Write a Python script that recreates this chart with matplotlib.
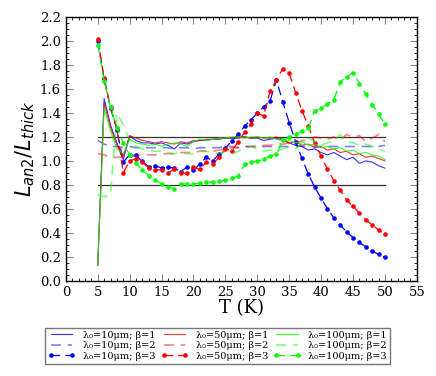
import matplotlib
matplotlib.use("Agg")
import matplotlib.pyplot as plt
from matplotlib.ticker import MultipleLocator

T = list(range(5, 51))

# beta = 1 (solid)
b1 = [0.13, 1.52, 1.30, 1.15, 1.01, 1.21, 1.17, 1.15, 1.15, 1.14,
      1.15, 1.13, 1.10, 1.15, 1.14, 1.16, 1.17, 1.17, 1.18, 1.18,
      1.19, 1.19, 1.19, 1.20, 1.19, 1.19, 1.17, 1.18, 1.19, 1.17,
      1.15, 1.13, 1.12, 1.09, 1.10, 1.07, 1.05, 1.07, 1.04, 1.01,
      1.03, 0.98, 1.00, 0.99, 0.96, 0.94]
r1 = [0.13, 1.48, 1.28, 1.13, 1.04, 1.21, 1.19, 1.17, 1.16, 1.15,
      1.16, 1.15, 1.14, 1.16, 1.15, 1.17, 1.17, 1.18, 1.18, 1.19,
      1.19, 1.19, 1.20, 1.20, 1.19, 1.20, 1.19, 1.19, 1.20, 1.18,
      1.15, 1.16, 1.13, 1.14, 1.11, 1.12, 1.09, 1.10, 1.07, 1.08,
      1.05, 1.06, 1.03, 1.04, 1.02, 1.00]
g1 = [0.13, 1.44, 1.25, 1.10, 1.06, 1.18, 1.15, 1.14, 1.13, 1.14,
      1.12, 1.14, 1.15, 1.14, 1.12, 1.16, 1.18, 1.17, 1.18, 1.19,
      1.19, 1.20, 1.20, 1.19, 1.20, 1.20, 1.19, 1.20, 1.18, 1.17,
      1.17, 1.15, 1.16, 1.13, 1.14, 1.11, 1.12, 1.10, 1.11, 1.08,
      1.09, 1.06, 1.07, 1.05, 1.04, 1.01]

# beta = 2 (dashed)
b2 = [1.17, 1.14, 1.12, 1.12, 1.11, 1.12, 1.11, 1.11, 1.11, 1.11,
      1.11, 1.11, 1.10, 1.11, 1.11, 1.10, 1.11, 1.11, 1.11, 1.11,
      1.12, 1.12, 1.11, 1.12, 1.12, 1.12, 1.12, 1.12, 1.12, 1.12,
      1.12, 1.13, 1.12, 1.12, 1.12, 1.12, 1.12, 1.12, 1.12, 1.12,
      1.12, 1.12, 1.12, 1.12, 1.12, 1.13]
r2 = [1.06, 1.05, 1.03, 1.03, 1.03, 1.04, 1.04, 1.05, 1.05, 1.05,
      1.06, 1.06, 1.06, 1.07, 1.07, 1.07, 1.08, 1.08, 1.08, 1.09,
      1.10, 1.11, 1.11, 1.12, 1.12, 1.12, 1.13, 1.13, 1.14, 1.14,
      1.15, 1.15, 1.17, 1.17, 1.20, 1.19, 1.18, 1.20, 1.17, 1.22,
      1.20, 1.21, 1.16, 1.19, 1.22, 1.16]
g2 = [0.72, 0.70, 0.72, 1.40, 1.30, 1.17, 1.12, 1.10, 1.09, 1.08,
      1.08, 1.07, 1.06, 1.07, 1.06, 1.06, 1.09, 1.08, 1.07, 1.06,
      1.08, 1.06, 1.08, 1.10, 1.12, 1.10, 1.08, 1.09, 1.08, 1.10,
      1.12, 1.10, 1.15, 1.19, 1.16, 1.13, 1.15, 1.17, 1.22, 1.16,
      1.15, 1.13, 1.14, 1.12, 1.10, 1.08]

# beta = 3 (dashed with dots)
b3 = [2.00, 1.68, 1.44, 1.26, 0.99, 1.05, 1.045, 0.995, 0.95, 0.96,
      0.94, 0.947, 0.94, 0.91, 0.95, 0.92, 0.975, 1.03, 1.00, 1.056,
      1.105, 1.167, 1.22, 1.29, 1.34, 1.40, 1.45, 1.50, 1.675, 1.49,
      1.32, 1.16, 1.02, 0.89, 0.78, 0.69, 0.60, 0.525, 0.464, 0.41,
      0.36, 0.32, 0.283, 0.25, 0.22, 0.197]
r3 = [2.02, 1.69, 1.45, 1.27, 0.90, 1.00, 1.017, 0.99, 0.94, 0.925,
      0.925, 0.90, 0.93, 0.90, 0.897, 0.947, 0.93, 0.99, 0.97, 1.03,
      1.10, 1.086, 1.156, 1.24, 1.31, 1.40, 1.375, 1.58, 1.675, 1.77,
      1.73, 1.57, 1.42, 1.29, 1.15, 1.04, 0.93, 0.836, 0.755, 0.675,
      0.62, 0.567, 0.51, 0.467, 0.425, 0.39]
g3 = [1.97, 1.667, 1.447, 1.278, 1.147, 1.05, 0.98, 0.925, 0.878, 0.84,
      0.81, 0.786, 0.767, 0.808, 0.81, 0.81, 0.814, 0.82, 0.825, 0.83,
      0.84, 0.856, 0.87, 0.97, 0.99, 0.997, 1.014, 1.04, 1.056, 1.17,
      1.195, 1.22, 1.25, 1.27, 1.415, 1.44, 1.475, 1.51, 1.66, 1.70,
      1.736, 1.645, 1.556, 1.47, 1.39, 1.31]

ref_levels = [1.2, 0.8]
lam_labels = ["10", "50", "100"]
betas = [1, 2, 3]
colors = ["#0000ff", "#ff0000", "#00ff00"]
yticks = [0.0, 0.2, 0.4, 0.6, 0.8, 1.0, 1.2, 1.4, 1.6, 1.8, 2.0, 2.2]

plt.rcParams['font.family'] = ['DejaVu Serif']

fig = plt.figure(figsize=(4.36, 3.76), dpi=100)
ax = fig.add_axes([0.151, 0.253, 0.805, 0.702])

for lv in ref_levels:
    ax.plot([5, 50], [lv, lv], color='#333333', lw=0.9, zorder=1)

series = [(b1, b2, b3), (r1, r2, r3), (g1, g2, g3)]
handles = []
labels = []
for (s1, s2, s3), c, lam in zip(series, colors, lam_labels):
    h1, = ax.plot(T, s1, color=c, lw=0.8, alpha=0.8)
    h2, = ax.plot(T, s2, color=c, lw=1.2, alpha=0.5, dashes=(6, 4))
    h3, = ax.plot(T, s3, color=c, lw=0.9, dashes=(7, 4), marker='o', ms=3.3, mew=0)
    handles += [h1, h2, h3]
    labels += ["λ₀=" + lam + "μm; β=" + str(b) for b in betas]

ax.set_xlim(0, 55)
ax.set_ylim(0, 2.2)
ax.xaxis.set_major_locator(MultipleLocator(5))
ax.xaxis.set_minor_locator(MultipleLocator(1))
ax.yaxis.set_minor_locator(MultipleLocator(0.05))
ax.set_yticks(yticks)
ax.set_yticklabels([f"{v:.1f}" for v in yticks])
ax.tick_params(which='both', direction='in', top=True, right=True, labelsize=9.5)
ax.tick_params(which='major', length=5, width=0.8, color='#888888')
ax.tick_params(which='minor', length=2.5, width=0.6)
for sp in ax.spines.values():
    sp.set_linewidth(1.0)

ax.set_xlabel("T (K)", fontsize=13, labelpad=0)
ax.set_ylabel(r"$L_{an2}/L_{thick}$", fontsize=15, labelpad=2,
              math_fontfamily='dejavusans')

leg = fig.legend(handles, labels, ncol=3, loc='upper left',
                 bbox_to_anchor=(0.103, 0.128, 0.791, 0.0), mode='expand',
                 fontsize=7.0, frameon=True, fancybox=False, edgecolor='#555555',
                 handlelength=2.8, borderpad=0.3, labelspacing=0.15,
                 columnspacing=0.8, handletextpad=0.8, numpoints=2,
                 borderaxespad=0)
leg.get_frame().set_linewidth(1.0)

fig.savefig("out.png", dpi=100)
